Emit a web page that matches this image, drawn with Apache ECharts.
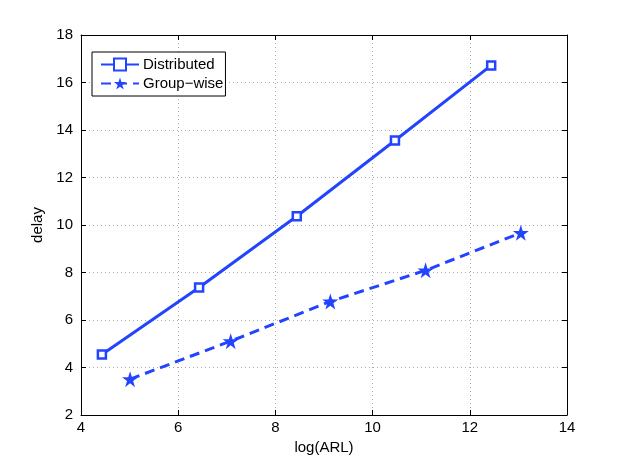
<!DOCTYPE html>
<html><head><meta charset="utf-8">
<script src="https://cdn.jsdelivr.net/npm/echarts@6/dist/echarts.min.js"></script>
<style>html,body{margin:0;padding:0;background:#fff}#c{width:626px;height:467px}</style>
</head><body><div id="c"></div>
<script>
var xTicks = [4, 6, 8, 10, 12, 14];
var yTicks = [2, 4, 6, 8, 10, 12, 14, 16, 18];
var distributedX = [4.43, 6.43, 8.44, 10.46, 12.44];
var distributedY = [4.55, 7.37, 10.37, 13.56, 16.72];
var groupwiseX = [5.01, 7.08, 9.13, 11.09, 13.05];
var groupwiseY = [3.51, 5.11, 6.78, 8.09, 9.67];

var blue = '#2244ff';
var star = 'path://M50 0 L61.23 34.55 L97.55 34.55 L68.16 55.9 L79.39 90.45 L50 69.1 L20.61 90.45 L31.84 55.9 L2.45 34.55 L38.77 34.55 Z';
var font = 'Liberation Sans, Arial, Helvetica, sans-serif';
function pairs(xs, ys){ return xs.map(function(x,i){ return [x, ys[i]]; }); }

var chart = echarts.init(document.getElementById('c'));
var axisCommon = {
  axisLine: {show: true, onZero: false, lineStyle: {color: '#000', width: 1}},
  axisTick: {show: true, inside: true, length: 5, lineStyle: {color: '#000'}},
  splitLine: {show: false}
};
chart.setOption({
  animation: false,
  backgroundColor: '#fff',
  grid: {left: 81, right: 59, top: 35, bottom: 52, containLabel: false},
  xAxis: [
    Object.assign({}, axisCommon, {
      type: 'value', min: xTicks[0], max: xTicks[xTicks.length-1], interval: 2,
      name: 'log(ARL)', nameLocation: 'middle', nameGap: 21,
      nameTextStyle: {fontFamily: font, fontSize: 15, color: '#000'},
      axisLabel: {fontFamily: font, fontSize: 15, color: '#000', margin: 5},
      splitLine: {show: true, lineStyle: {color: '#aaa', type: [1, 3], width: 1}}
    }),
    Object.assign({}, axisCommon, {
      type: 'value', position: 'top', min: xTicks[0], max: xTicks[xTicks.length-1], interval: 2,
      axisLabel: {show: false}
    })
  ],
  yAxis: [
    Object.assign({}, axisCommon, {
      type: 'value', min: yTicks[0], max: yTicks[yTicks.length-1], interval: 2,
      name: 'delay', nameLocation: 'middle', nameGap: 36, nameRotate: 90,
      nameTextStyle: {fontFamily: font, fontSize: 15, color: '#000'},
      axisLabel: {fontFamily: font, fontSize: 15, color: '#000', margin: 8},
      splitLine: {show: true, lineStyle: {color: '#aaa', type: [1, 3], width: 1}}
    }),
    Object.assign({}, axisCommon, {
      type: 'value', position: 'right', min: yTicks[0], max: yTicks[yTicks.length-1], interval: 2,
      axisLabel: {show: false}
    })
  ],
  legend: {
    left: 92, top: 52, orient: 'vertical',
    backgroundColor: '#fff', borderColor: '#000', borderWidth: 1,
    padding: [5, 2, 5, 8], itemGap: 4, itemWidth: 38, itemHeight: 15,
    textStyle: {fontFamily: font, fontSize: 15, color: '#000', padding: [0,0,0,-1]},
    data: ['Distributed', 'Group\u2212wise']
  },
  series: [
    {
      name: 'Distributed', type: 'line', data: pairs(distributedX, distributedY),
      symbol: 'rect', symbolSize: 8, showAllSymbol: true,
      lineStyle: {color: blue, width: 3},
      itemStyle: {color: '#fff', borderColor: blue, borderWidth: 2.5}
    },
    {
      name: 'Group\u2212wise', type: 'line', data: pairs(groupwiseX, groupwiseY),
      symbol: star, symbolSize: 16, showAllSymbol: true,
      lineStyle: {color: blue, width: 3, type: [10, 6]},
      itemStyle: {color: blue, borderWidth: 0}
    }
  ]
});
</script></body></html>
